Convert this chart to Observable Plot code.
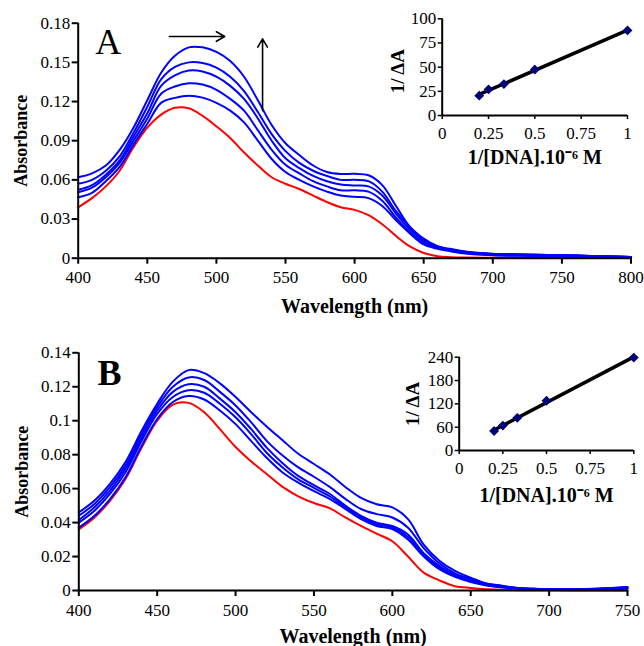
<!DOCTYPE html>
<html><head><meta charset="utf-8">
<script src="https://cdn.jsdelivr.net/npm/d3@7"></script>
<script src="https://cdn.jsdelivr.net/npm/@observablehq/plot@0.6"></script>
<style>
body{margin:0;background:#fff;}
#root{position:relative;width:644px;height:646px;overflow:hidden;background:#fff;}
#root svg, #root svg text{font-family:'Liberation Serif','Times New Roman',serif !important;}
</style></head><body><div id="root"></div>
<script>
// ---------- Panel A spectra ----------
const wavelengthA = [400,410,420,430,440,450,460,470,480,490,500,510,520,530,540,550,560,570,580,590,600,610,620,630,640,650,660,670,680,700,720,740,760,780,800];
const redA   = [.039,.046,.055,.067,.085,.100,.110,.1152,.1148,.109,.101,.092,.081,.071,.062,.057,.053,.048,.043,.039,.037,.033,.026,.017,.009,.004,.0015,.0008,.0005,.0003,.0002,.0002,.0002,.0003,.0010];
const blueA1 = [.0467,.050,.059,.070,.087,.103,.119,.1228,.1245,.123,.119,.113,.104,.090,.076,.066,.060,.055,.051,.048,.047,.046,.040,.029,.019,.0105,.0072,.0052,.0035,.0022,.0018,.0015,.0015,.0010,.0008];
const blueA2 = [.0505,.054,.062,.073,.090,.107,.126,.1315,.134,.133,.129,.122,.113,.098,.083,.0715,.065,.059,.055,.052,.052,.051,.044,.031,.020,.012,.008,.0058,.004,.0025,.002,.002,.0018,.0012,.001];
const blueA3 = [.0524,.056,.064,.075,.093,.111,.132,.140,.1437,.143,.139,.132,.122,.107,.090,.0765,.069,.063,.059,.0565,.0557,.055,.048,.034,.022,.0135,.0085,.006,.0045,.003,.0025,.0022,.002,.0015,.001];
const blueA4 = [.057,.060,.067,.078,.096,.116,.137,.1465,.150,.1495,.146,.139,.128,.112,.095,.082,.073,.067,.063,.060,.060,.059,.051,.036,.024,.015,.0092,.0065,.005,.0032,.0028,.0025,.002,.0015,.001];
const blueA5 = [.062,.065,.071,.083,.100,.121,.142,.155,.1615,.1615,.158,.151,.139,.121,.102,.088,.079,.071,.066,.0645,.0646,.0635,.056,.040,.024,.0145,.009,.007,.0052,.0035,.003,.0025,.002,.0015,.001];

// ---------- Panel B spectra ----------
const wavelengthB = [400,410,420,430,440,450,460,470,480,490,500,510,520,530,540,550,560,570,580,590,600,610,620,630,640,650,660,670,680,690,700,720,740,750];
const redB   = [.036,.043,.053,.066,.084,.100,.1095,.1105,.105,.095,.0845,.076,.0685,.061,.0555,.0515,.0485,.043,.038,.0335,.029,.020,.0105,.006,.0025,.0015,.0008,.0004,.0002,.0001,.0001,0,0,0];
const blueB1 = [.037,.044,.054,.067,.085,.101,.111,.1145,.1125,.106,.098,.088,.078,.0695,.0635,.0585,.054,.048,.042,.038,.0362,.030,.020,.0125,.008,.005,.003,.0018,.0012,.0008,.0005,.0004,.0008,.001];
const blueB2 = [.040,.047,.057,.070,.088,.104,.114,.118,.1165,.110,.102,.092,.081,.0725,.0655,.0605,.0555,.049,.043,.039,.0372,.0315,.021,.0135,.0085,.0055,.0032,.002,.0013,.0009,.0006,.0005,.001,.0012];
const blueB3 = [.0415,.049,.059,.072,.090,.106,.117,.1215,.120,.113,.105,.095,.084,.075,.0675,.062,.057,.050,.044,.040,.038,.033,.022,.0145,.009,.006,.0035,.0022,.0014,.001,.0007,.0006,.0012,.0015];
const blueB4 = [.044,.051,.061,.074,.092,.108,.120,.1255,.124,.117,.109,.099,.088,.0795,.0725,.067,.061,.054,.048,.045,.043,.037,.025,.016,.010,.0068,.004,.0025,.0015,.001,.0008,.0007,.0015,.002];
const blueB5 = [.046,.053,.063,.076,.094,.110,.123,.1298,.128,.122,.114,.105,.0965,.0885,.0805,.0745,.0685,.061,.0545,.0508,.049,.042,.027,.0175,.0115,.0075,.0042,.0028,.0015,.001,.0008,.0008,.0015,.002];

// ---------- Insets (double reciprocal plots) ----------
const dnaInv = [0.2, 0.25, 0.333, 0.5, 1];
const invDeltaA_A = [20.5, 27, 32.5, 47.5, 88];
const invDeltaA_B = [50, 64, 84, 128, 239];

// ---------- Ticks & labels ----------
const xTicksA = [400,450,500,550,600,650,700,750,800];
const yTicksA = [0,0.03,0.06,0.09,0.12,0.15,0.18];
const xTicksB = [400,450,500,550,600,650,700,750];
const yTicksB = [0,0.02,0.04,0.06,0.08,0.1,0.12,0.14];
const insetXTicks = [0,0.25,0.5,0.75,1];
const insetYTicksA = [0,25,50,75,100];
const insetYTicksB = [0,60,120,180,240];
const xLabelMain = "Wavelength (nm)";
const yLabelMain = "Absorbance";
const xLabelInset = "1/[DNA].10\u207B\u2076 M";
const yLabelInset = "1/ \u0394A";

// annotation arrows in panel A (data coordinates)
const arrowsA = [
  {x1: 466, y1: 0.1698, x2: 506, y2: 0.1698},
  {x1: 533.4, y1: 0.113, x2: 533.4, y2: 0.168}
];

const FONT = "Liberation Serif";
const fmt = d => String(d);
const root = document.getElementById("root");

function place(el, left, top) {
  el.style.position = "absolute";
  el.style.left = left + "px";
  el.style.top = top + "px";
  root.appendChild(el);
}

function mainPanel(o) {
  const lines = o.series.map(s => Plot.line(s.values, {
    x: (d, i) => o.wl[i], y: d => d, stroke: s.color, strokeWidth: 2, curve: "catmull-rom"
  }));
  return Plot.plot({
    width: 644, height: o.height,
    marginLeft: o.ml, marginRight: o.mr, marginTop: o.mt, marginBottom: o.mb,
    x: {domain: o.xDomain},
    y: {domain: o.yDomain},
    style: {fontFamily: FONT, fontSize: "16px", background: "transparent", color: "black", overflow: "visible"},
    marks: [
      ...lines,
      ...(o.extra || []),
      Plot.ruleX([o.xDomain[0]], {stroke: "black", strokeWidth: 2}),
      Plot.ruleY([0], {stroke: "black", strokeWidth: 2}),
      Plot.axisX({ticks: o.xTicks, tickFormat: fmt, tickSize: 6, tickPadding: 7, strokeWidth: 2, fontSize: 17, fontFamily: FONT, label: null}),
      Plot.axisY({ticks: o.yTicks, tickFormat: fmt, tickSize: 6, tickPadding: 2, strokeWidth: 2, fontSize: 17, fontFamily: FONT, label: null}),
      Plot.text([xLabelMain], {text: d => d, frameAnchor: "bottom", dy: o.xlDy, textAnchor: "middle", lineAnchor: "middle", fontFamily: FONT, fontWeight: "bold", fontSize: 20, fill: "black"}),
      Plot.text([yLabelMain], {text: d => d, frameAnchor: "left", dx: -57, rotate: -90, textAnchor: "middle", lineAnchor: "middle", fontFamily: FONT, fontWeight: "bold", fontSize: 18, fill: "black"}),
      Plot.text([o.panel], {text: d => d, frameAnchor: "top-left", dx: o.pDx, dy: o.pDy, textAnchor: "middle", lineAnchor: "middle", fontFamily: FONT, fontSize: 36, fontWeight: o.panelWeight, fill: "black"})
    ]
  });
}

function insetPanel(o) {
  const pts = o.y.map((v, i) => ({x: dnaInv[i], y: v}));
  return Plot.plot({
    width: 264, height: 170,
    marginLeft: o.ml, marginRight: o.mr, marginTop: o.mt, marginBottom: o.mb,
    x: {domain: [0, 1]},
    y: {domain: o.yDomain},
    style: {fontFamily: FONT, fontSize: "16px", background: "transparent", color: "black", overflow: "visible"},
    marks: [
      Plot.ruleX([0], {stroke: "black", strokeWidth: 2}),
      Plot.ruleY([0], {stroke: "black", strokeWidth: 2}),
      Plot.axisX({ticks: insetXTicks, tickFormat: fmt, tickSize: 4, tickPadding: 7, strokeWidth: 1.5, fontSize: 17, fontFamily: FONT, label: null}),
      Plot.axisY({ticks: o.yTicks, tickFormat: fmt, tickSize: 4, tickPadding: 2, strokeWidth: 1.5, fontSize: 17, fontFamily: FONT, label: null}),
      Plot.linearRegressionY(pts, {x: "x", y: "y", ci: 0, stroke: "black", strokeWidth: 3.5}),
      Plot.dot(pts, {x: "x", y: "y", symbol: "diamond2", r: 3.5, fill: "#00007a", stroke: "#00007a"}),
      Plot.text([xLabelInset], {text: d => d, frameAnchor: "bottom", dy: o.xlDy, textAnchor: "middle", lineAnchor: "middle", fontFamily: FONT, fontWeight: "bold", fontSize: 20, fill: "black"}),
      Plot.text([yLabelInset], {text: d => d, frameAnchor: "left", dx: o.ylDx, dy: o.ylDy, rotate: -90, textAnchor: "middle", lineAnchor: "middle", fontFamily: FONT, fontWeight: "bold", fontSize: 19, fill: "black"})
    ]
  });
}

const panelA = mainPanel({
  height: 322, ml: 77.7, mr: 13.5, mt: 22.7, mb: 64.3,
  xDomain: [400, 800], yDomain: [0, 0.18], xTicks: xTicksA, yTicks: yTicksA,
  wl: wavelengthA,
  series: [
    {values: redA, color: "#ff0000"},
    {values: blueA1, color: "#0000ff"},
    {values: blueA2, color: "#0000ff"},
    {values: blueA3, color: "#0000ff"},
    {values: blueA4, color: "#0000ff"},
    {values: blueA5, color: "#0000ff"}
  ],
  extra: [Plot.arrow(arrowsA, {x1: "x1", y1: "y1", x2: "x2", y2: "y2", stroke: "black", strokeWidth: 1.6, headLength: 9})],
  xlDy: 48, panel: "A", panelWeight: "normal", pDx: 30, pDy: 19
});
place(panelA, 0, 0);

const panelB = mainPanel({
  height: 324, ml: 78.3, mr: 17, mt: 30.3, mb: 56,
  xDomain: [400, 750], yDomain: [0, 0.14], xTicks: xTicksB, yTicks: yTicksB,
  wl: wavelengthB,
  series: [
    {values: redB, color: "#ff0000"},
    {values: blueB1, color: "#0000ff"},
    {values: blueB2, color: "#0000ff"},
    {values: blueB3, color: "#0000ff"},
    {values: blueB4, color: "#0000ff"},
    {values: blueB5, color: "#0000ff"}
  ],
  xlDy: 46.5, panel: "B", panelWeight: "bold", pDx: 30.7, pDy: 21
});
place(panelB, 0, 322);

const insetA = insetPanel({
  ml: 61.7, mr: 17, mt: 18.3, mb: 55, yDomain: [0, 100], yTicks: insetYTicksA,
  y: invDeltaA_A, xlDy: 41.7, ylDx: -44.7, ylDy: 4
});
place(insetA, 380, 0);

const insetB = insetPanel({
  ml: 78.7, mr: 10.7, mt: 26.7, mb: 50, yDomain: [0, 240], yTicks: insetYTicksB,
  y: invDeltaA_B, xlDy: 45, ylDx: -46.7, ylDy: 0
});
place(insetB, 380, 330);
</script></body></html>
